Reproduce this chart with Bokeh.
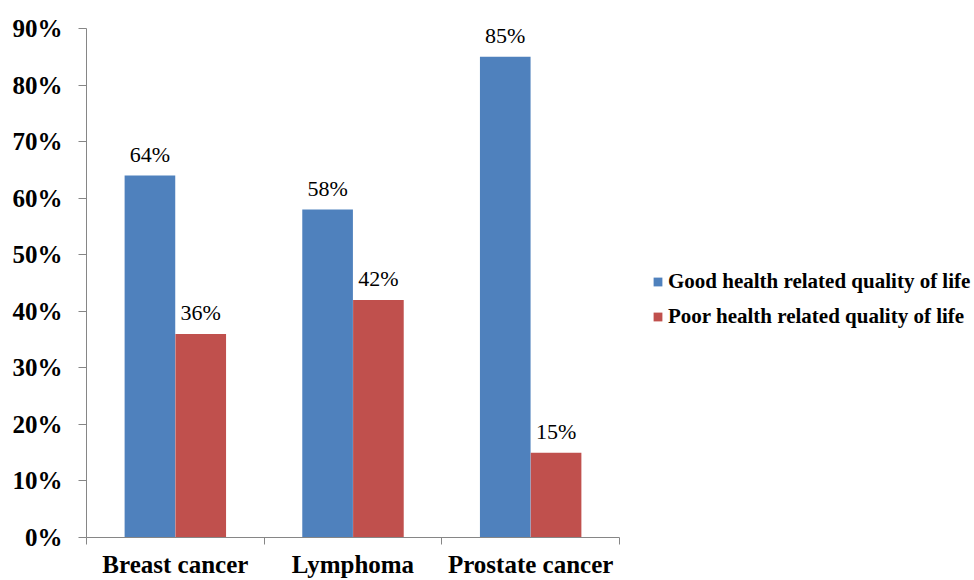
from bokeh.plotting import figure
from bokeh.models import (ColumnDataSource, FixedTicker, Legend, LegendItem,
                          CustomJSTickFormatter)
from bokeh.core.properties import value
from bokeh.transform import dodge
from bokeh.embed import file_html
from bokeh.resources import INLINE

categories = ["Breast cancer", "Lymphoma", "Prostate cancer"]
good = [64, 58, 85]
poor = [36, 42, 15]
series_names = ["Good health related quality of life", "Poor health related quality of life"]
y_ticks = [0, 10, 20, 30, 40, 50, 60, 70, 80, 90]

FONT = "Liberation Serif"
BLUE = "#4F81BD"
RED = "#C0504D"
AXIS = "#868686"

n = len(categories)
xc = [i + 0.5 for i in range(n)]
src = ColumnDataSource(dict(
    x=xc, good=good, poor=poor,
    good_lbl=[f"{v}%" for v in good], poor_lbl=[f"{v}%" for v in poor],
))

# frame spans the full width to the right; axis line bounded to the categories
p = figure(width=974, height=580, output_backend="svg", toolbar_location=None,
           x_range=(0, n * 888 / 533), y_range=(0, 90),
           min_border_left=86, min_border_right=0, min_border_top=28,
           min_border_bottom=41)
p.outline_line_color = None
p.xgrid.visible = False
p.ygrid.visible = False
p.background_fill_color = "white"
p.border_fill_color = "white"

W = 0.285
OFF = 0.143
r1 = p.vbar(x=dodge("x", -OFF), top="good", width=W, bottom=0, source=src,
            fill_color=BLUE, line_color=None)
r2 = p.vbar(x=dodge("x", OFF), top="poor", width=W, bottom=0, source=src,
            fill_color=RED, line_color=None)

for col, lbl, off in (("good", "good_lbl", -OFF), ("poor", "poor_lbl", OFF)):
    p.text(x=dodge("x", off), y=col, text=lbl, source=src,
           text_align="center", text_baseline="alphabetic", y_offset=-21,
           text_font=value(FONT), text_font_size="22px",
           text_color="black")

# y axis
ya = p.yaxis[0]
ya.ticker = FixedTicker(ticks=y_ticks)
ya.formatter = CustomJSTickFormatter(code="return tick.toFixed(0) + '%';")
ya.major_label_text_font = FONT
ya.major_label_text_font_style = "bold"
ya.major_label_text_font_size = "25px"
ya.major_label_text_color = "black"
ya.major_label_standoff = 16
ya.axis_line_color = AXIS
ya.major_tick_line_color = AXIS
ya.major_tick_out = 8
ya.major_tick_in = 0
ya.minor_tick_line_color = None

# x axis: labels at centers, ticks at boundaries
xa = p.xaxis[0]
xa.bounds = (0, n)
xa.ticker = FixedTicker(ticks=xc, minor_ticks=list(range(n + 1)))
xa.major_label_overrides = {x: c for x, c in zip(xc, categories)}
xa.major_label_text_font = FONT
xa.major_label_text_font_style = "bold"
xa.major_label_text_font_size = "25px"
xa.major_label_text_color = "black"
xa.major_label_standoff = 6
xa.axis_line_color = AXIS
xa.major_tick_line_color = None
xa.major_tick_out = 0
xa.major_tick_in = 0
xa.minor_tick_line_color = AXIS
xa.minor_tick_out = 7
xa.minor_tick_in = 0

legend = Legend(items=[LegendItem(label=series_names[0], renderers=[r1]),
                       LegendItem(label=series_names[1], renderers=[r2])],
                location=(566, 208), orientation="vertical",
                padding=0, margin=0, spacing=10,
                glyph_width=11, glyph_height=11, label_standoff=5,
                label_text_font=FONT, label_text_font_style="bold",
                label_text_font_size="21px", label_text_color="black",
                border_line_color=None, background_fill_alpha=0)
p.add_layout(legend, "center")

open("out.html", "w").write(file_html(p, INLINE))
